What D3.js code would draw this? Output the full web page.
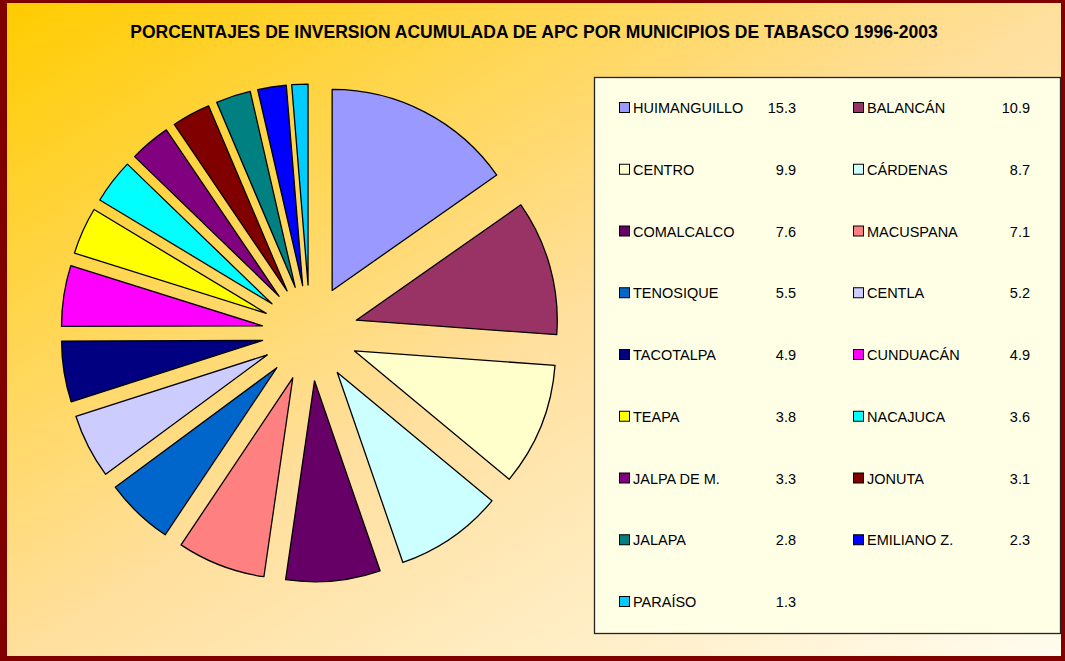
<!DOCTYPE html>
<html>
<head>
<meta charset="utf-8">
<script src="https://cdn.jsdelivr.net/npm/d3@7"></script>
<style>
  html, body { margin: 0; padding: 0; background: #fff; }
  svg { display: block; font-family: "Liberation Sans", Arial, sans-serif; }
</style>
</head>
<body>
<svg id="chart" width="1065" height="661"></svg>
<script>
// municipios, in the order Excel draws the slices (clockwise from 12 o'clock)
const municipios = ["HUIMANGUILLO", "BALANCÁN", "CENTRO", "CÁRDENAS", "COMALCALCO", "MACUSPANA",
  "TENOSIQUE", "CENTLA", "TACOTALPA", "CUNDUACÁN", "TEAPA", "NACAJUCA", "JALPA DE M.",
  "JONUTA", "JALAPA", "EMILIANO Z.", "PARAÍSO"];
const porcentajes = [15.3, 10.9, 9.9, 8.7, 7.6, 7.1, 5.5, 5.2, 4.9, 4.9, 3.8, 3.6, 3.3, 3.1, 2.8, 2.3, 1.3];
const colores = ["#9999FF", "#993366", "#FFFFCC", "#CCFFFF", "#660066", "#FF8080", "#0066CC", "#CCCCFF",
  "#000080", "#FF00FF", "#FFFF00", "#00FFFF", "#800080", "#800000", "#008080", "#0000FF", "#00CCFF"];
const titulo = "PORCENTAJES DE INVERSION ACUMULADA DE APC POR MUNICIPIOS DE TABASCO 1996-2003";

const width = 1065, height = 661;
const svg = d3.select("#chart");

// background gradient
const defs = svg.append("defs");
const grad = defs.append("linearGradient").attr("id", "bg")
  .attr("x1", 0).attr("y1", 0).attr("x2", 1).attr("y2", 1);
grad.append("stop").attr("offset", 0).attr("stop-color", "#FFCC00");
grad.append("stop").attr("offset", 0.5).attr("stop-color", "#FFDF9C");
grad.append("stop").attr("offset", 1).attr("stop-color", "#FFFCEE");

// dark red frame
svg.append("rect").attr("width", width).attr("height", height).attr("fill", "#800000");
svg.append("rect").attr("x", 7).attr("y", 3).attr("width", 1054).attr("height", 653).attr("fill", "url(#bg)");

svg.append("text")
  .attr("x", 534).attr("y", 38)
  .attr("text-anchor", "middle")
  .attr("font-size", 17.5).attr("font-weight", "bold")
  .attr("fill", "#000")
  .text(titulo);

// exploded pie
const cx = 310, cy = 333, radius = 201, explode = 48;
const datos = municipios.map((m, i) => ({ nombre: m, valor: porcentajes[i], color: colores[i] }));

const pie = d3.pie().value(d => d.valor).sort(null);
const arc = d3.arc().innerRadius(0).outerRadius(radius);

const pieGroup = svg.append("g").attr("transform", `translate(${cx},${cy})`);
pieGroup.selectAll("path")
  .data(pie(datos))
  .enter()
  .append("path")
  .attr("d", arc)
  .attr("transform", d => {
    const a = (d.startAngle + d.endAngle) / 2;
    return `translate(${Math.sin(a) * explode},${-Math.cos(a) * explode})`;
  })
  .attr("fill", d => d.data.color)
  .attr("stroke", "#000")
  .attr("stroke-width", 1.3)
  .attr("stroke-linejoin", "round");

// legend box
const legend = svg.append("g");
legend.append("rect")
  .attr("x", 594.5).attr("y", 77.5).attr("width", 466).attr("height", 556)
  .attr("fill", "#FFFFE6").attr("stroke", "#222").attr("stroke-width", 1.3);

const colX = d3.scalePoint().domain([0, 1]).range([619, 853]);
const valX = [796, 1030];
const rowY = d3.scaleLinear().domain([0, 8]).range([108, 602]);

const items = legend.selectAll("g.item")
  .data(datos)
  .enter()
  .append("g")
  .attr("class", "item")
  .attr("transform", (d, i) => `translate(0,${rowY(Math.floor(i / 2))})`);

items.append("rect")
  .attr("x", (d, i) => colX(i % 2) + 0.5).attr("y", -5.5)
  .attr("width", 10).attr("height", 10)
  .attr("fill", d => d.color).attr("stroke", "#000").attr("stroke-width", 1);

items.append("text")
  .attr("x", (d, i) => colX(i % 2) + 14).attr("y", 5)
  .attr("font-size", 14.5).attr("fill", "#000")
  .text(d => d.nombre);

items.append("text")
  .attr("x", (d, i) => valX[i % 2]).attr("y", 5)
  .attr("text-anchor", "end")
  .attr("font-size", 14.5).attr("fill", "#000")
  .text(d => d.valor.toFixed(1));
</script>
</body>
</html>
